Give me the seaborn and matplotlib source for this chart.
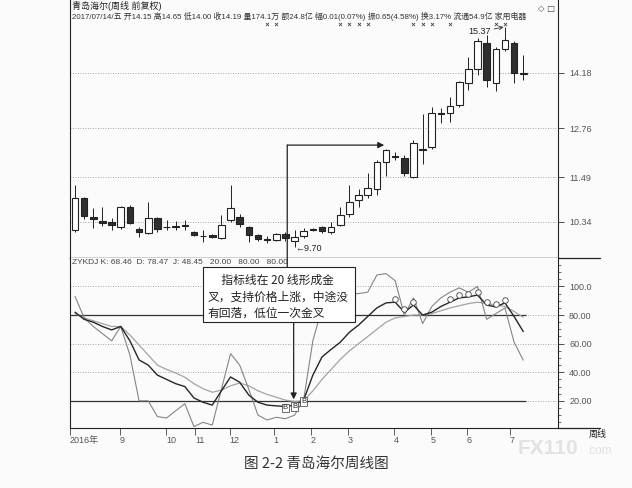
import numpy as np
import pandas as pd
import matplotlib.pyplot as plt
import seaborn as sns
from matplotlib.patches import Rectangle, ConnectionPatch
from matplotlib.lines import Line2D
from matplotlib.ticker import MultipleLocator

sns.set_theme(style="white", context="paper")
plt.rcParams['font.family'] = ['Liberation Sans', 'Noto Sans CJK SC', 'DejaVu Sans']
plt.rcParams['axes.unicode_minus'] = False

# weekly candles, Aug 2016 - 2017/07/14
opens = [10.13, 10.96, 10.47, 10.37, 10.34, 10.21, 10.73, 10.16, 10.06, 10.44,
         10.21, 10.21, 10.24, 10.08, 9.98, 10.00, 9.93, 10.39, 10.47, 10.21,
         10.00, 9.89, 9.88, 10.03, 9.86, 9.98, 10.13, 10.21, 10.08, 10.26,
         10.55, 10.91, 11.04, 11.19, 11.88, 12.02, 11.99, 11.50, 12.19, 12.27,
         13.12, 13.15, 13.36, 13.92, 14.28, 14.95, 13.92, 14.80, 14.95, 14.15]
highs = [11.29, 10.98, 10.70, 10.73, 10.44, 10.75, 10.78, 10.21, 10.86, 10.47,
         10.39, 10.36, 10.39, 10.11, 10.13, 10.03, 10.52, 11.29, 10.55, 10.24,
         10.03, 9.97, 10.06, 10.08, 10.13, 10.18, 10.18, 10.24, 10.34, 10.73,
         11.29, 11.19, 11.60, 11.93, 12.21, 12.14, 12.07, 12.45, 13.12, 13.30,
         13.28, 13.56, 13.97, 14.59, 15.08, 15.16, 14.85, 15.37, 15.00, 14.65]
lows = [10.08, 10.42, 10.18, 10.23, 10.13, 10.16, 10.28, 9.95, 10.03, 10.08,
        10.13, 10.13, 10.13, 9.98, 9.82, 9.93, 9.90, 10.34, 10.21, 9.82,
        9.85, 9.80, 9.85, 9.85, 9.70, 9.93, 10.11, 10.06, 10.03, 10.24,
        10.47, 10.73, 10.96, 11.04, 11.53, 11.93, 11.53, 11.48, 11.83, 12.22,
        12.89, 12.92, 13.30, 13.74, 14.13, 13.82, 13.72, 14.75, 13.92, 14.00]
closes = [10.96, 10.49, 10.42, 10.31, 10.26, 10.73, 10.31, 10.08, 10.44, 10.16,
          10.20, 10.22, 10.24, 10.00, 9.97, 9.95, 10.26, 10.70, 10.29, 10.00,
          9.90, 9.88, 10.03, 9.93, 9.95, 10.10, 10.16, 10.10, 10.21, 10.52,
          10.86, 11.04, 11.22, 11.88, 12.19, 12.03, 11.60, 12.38, 12.21, 13.15,
          13.15, 13.33, 13.95, 14.28, 15.00, 14.00, 14.80, 15.03, 14.18, 14.19]

# ZYKDJ indicator
k_vals = [82, 77, 75, 72, 69.6, 72, 62, 48.6, 45, 38,
          35, 32, 30, 22, 19, 17, 27, 36.7, 33, 24,
          19, 17, 16.5, 16, 17, 20.6, 38, 50.7, 56, 61,
          68, 73, 79, 85, 88.5, 89, 82, 87, 80, 82,
          86, 89, 92, 92.7, 94, 87, 85.7, 88.5, 79, 68.46]
d_vals = [81, 78, 76, 74, 72, 72, 66, 59, 52, 45,
          42, 39.5, 36.5, 32, 28.5, 26, 27.5, 30.5, 32.5, 30.5,
          27, 24.5, 22.5, 20.5, 19.5, 20, 27, 35, 42, 49,
          55, 60, 65, 70, 75, 78, 79, 80, 80, 81,
          83, 85, 86.5, 88, 89, 88, 87, 86, 82.5, 78.47]
j_vals = [93, 78, 72, 67, 62, 72, 52, 20, 20, 9,
          8, 13, 18, 2, 5, 3, 28, 53, 45, 28,
          10, 6.6, 8.5, 7.5, 10, 21, 62, 85, 95, 97,
          95, 95, 96, 108, 109, 104, 80, 92, 74, 86,
          92, 96, 99, 96, 100, 77, 81, 85, 61, 48.45]

price_ticks = [14.18, 12.76, 11.49, 10.34]
kdj_ticks = [100, 80, 60, 40, 20]
kdj_tick_labels = ["100.0", "80.00", "60.00", "40.00", "20.00"]
month_pos = [-0.55, 4.9, 9.95, 13.1, 16.9, 21.7, 25.8, 29.8, 34.9, 38.9, 42.8, 47.5]
month_labels = ["2016年", "9", "10", "11", "12", "1", "2", "3", "4", "5", "6", "7"]
cross_idx = [21, 22, 29, 30, 31, 32, 37, 38, 39, 41, 46, 47]
buy_idx = [23, 24, 25]
circle_idx = [35, 36, 37, 41, 42, 43, 44, 45, 46, 47]

note = ["　 指标线在 20 线形成金", "叉，支持价格上涨，中途没", "有回落，低位一次金叉"]

idx = np.arange(len(closes))
W, H = 632, 488
bg = "#fbfbfb"

fig = plt.figure(figsize=(6.32, 4.88), dpi=100, facecolor=bg)
ax1 = fig.add_axes([70 / W, 1 - 258 / H, 488 / W, 258 / H], facecolor=bg)
ax2 = fig.add_axes([70 / W, 1 - 428 / H, 488 / W, 170 / H], facecolor=bg, sharex=ax1)

# candles
up = np.array(closes) >= np.array(opens)
ax1.vlines(idx, lows, highs, color="#222222", lw=0.7, zorder=2)
body_h = np.maximum(np.abs(np.array(closes) - np.array(opens)), 0.012)
body_b = np.minimum(opens, closes)
ax1.bar(idx[up], body_h[up], bottom=body_b[up], width=0.72,
        facecolor="white", edgecolor="#222222", linewidth=0.8, zorder=3)
ax1.bar(idx[~up], body_h[~up], bottom=body_b[~up], width=0.72,
        facecolor="#2e2e2e", edgecolor="#222222", linewidth=0.8, zorder=3)

for p in price_ticks:
    ax1.axhline(p, ls=(0, (1, 2)), color="#8a8a8a", lw=0.6, zorder=1)
ax1.set_ylim(9.41, 16.06)
ax1.set_xlim(-0.55, 52.8)

ax1.scatter(cross_idx, [15.44] * len(cross_idx), marker="x", s=5, color="#444444",
            linewidths=0.6, zorder=3)
ax1.annotate(f"{max(highs):.2f}", xy=(47, max(highs)), xytext=(43.0, 15.24),
             fontsize=6.5, color="#222222", va="center",
             arrowprops=dict(arrowstyle="->", color="#333333", lw=0.6,
                             shrinkA=0, shrinkB=1))
ax1.text(24.05, min(lows) - 0.04, f"←{min(lows):.2f}", fontsize=6.5,
         color="#222222", ha="left", va="center")

# KDJ panel
kdj = pd.DataFrame({"idx": idx, "K": k_vals, "D": d_vals, "J": j_vals})
sns.lineplot(data=kdj, x="idx", y="D", color="#a3a3a3", lw=0.9, ax=ax2, zorder=3)
sns.lineplot(data=kdj, x="idx", y="J", color="#858585", lw=0.8, ax=ax2, zorder=3)
sns.lineplot(data=kdj, x="idx", y="K", color="#262626", lw=1.0, ax=ax2, zorder=4)

for v in kdj_ticks:
    ax2.axhline(v, ls=(0, (1, 2)), color="#8a8a8a", lw=0.6, zorder=1)
ax2.hlines([80, 20], -0.5, idx[-1] + 0.3, color="#333333", lw=0.9, zorder=2)
ax2.set_ylim(1.0, 119.9)

ax2.scatter(circle_idx, [k_vals[i] + 2 for i in circle_idx], marker="o", s=16,
            facecolors="white", edgecolors="#444444", linewidths=0.6, zorder=5)
for i in buy_idx:
    ax2.text(i, k_vals[i] - 1, "B", fontsize=5.5, ha="center", va="center",
             color="#222222", zorder=6,
             bbox=dict(boxstyle="square,pad=0.1", fc="white", ec="#333333", lw=0.5))

# annotation box and arrows
ax2.add_patch(Rectangle((14.0, 75.2), 16.6, 38.4, facecolor="white",
                        edgecolor="#222222", lw=0.8, zorder=8, clip_on=False))
for line, yv in zip(note, [104.5, 92.3, 81.0]):
    ax2.text(14.45, yv, line, fontsize=8.5, color="#222222", ha="left",
             va="center", zorder=9, family=["Noto Sans CJK SC", "DejaVu Sans"])

con = ConnectionPatch(xyA=(23.2, 12.32), coordsA=ax1.transData,
                      xyB=(23.2, 113.6), coordsB=ax2.transData,
                      color="#222222", lw=0.9, zorder=7)
fig.add_artist(con)
ax1.annotate("", xy=(33.8, 12.32), xytext=(23.2, 12.32),
             arrowprops=dict(arrowstyle="-|>", color="#222222", lw=0.9,
                             mutation_scale=9, shrinkA=0, shrinkB=0))
ax2.annotate("", xy=(23.9, 21), xytext=(23.9, 75.2),
             arrowprops=dict(arrowstyle="-|>", color="#222222", lw=0.9,
                             mutation_scale=9, shrinkA=0, shrinkB=0))

# axes styling
for ax in (ax1, ax2):
    ax.set_xlabel("")
    ax.set_ylabel("")
    ax.yaxis.tick_right()
    ax.tick_params(axis="y", direction="out", length=4, width=0.6, color="#333333",
                   labelcolor="#555555", labelsize=6.5, pad=4, right=True, left=False)
    for s in ax.spines.values():
        s.set_color("#222222")
        s.set_linewidth(0.8)
ax1.spines["top"].set_visible(False)
ax1.spines["bottom"].set_linewidth(1.0)
ax2.spines["top"].set_visible(False)
ax1.set_yticks(price_ticks)
ax1.set_yticklabels([f"{p:.2f}" for p in price_ticks])
ax1.tick_params(axis="x", bottom=False, labelbottom=False)
ax2.set_yticks(kdj_ticks)
ax2.set_yticklabels(kdj_tick_labels)
ax2.yaxis.set_minor_locator(MultipleLocator(5))
ax2.tick_params(axis="y", which="minor", direction="out", length=2, width=0.5,
                color="#333333", right=True, left=False)
ax2.set_xticks(month_pos)
ax2.set_xticklabels(month_labels)
ax2.tick_params(axis="x", direction="out", length=5, width=0.6, color="#444444",
                labelcolor="#555555", labelsize=6.5, pad=1, bottom=True)
for lab in ax2.get_xticklabels():
    lab.set_ha("left")

# lines running past the right axis
for yy in (258, 428):
    fig.add_artist(Line2D([558 / W, 600 / W], [1 - yy / H] * 2, color="#222222", lw=0.9))

# header texts
fig.text(72 / W, 1 - 6 / H, "青岛海尔(周线 前复权)", fontsize=6.5, va="center", color="#222222")
info = (f"2017/07/14/五 开{opens[-1]:.2f} 高{highs[-1]:.2f} 低{lows[-1]:.2f} "
        f"收{closes[-1]:.2f} 量174.1万 额24.8亿 幅0.01(0.07%) 振0.65(4.58%) "
        f"换3.17% 流通54.9亿 家用电器")
fig.text(72 / W, 1 - 16 / H, info, fontsize=5.7, va="center", color="#333333")
fig.text(546 / W, 1 - 8 / H, "◇ □", fontsize=6, va="center", ha="center",
         color="#444444", family=["DejaVu Sans"])
fig.text(72 / W, 1 - 263 / H,
         f"ZYKDJ K: {k_vals[-1]:.2f}  D: {d_vals[-1]:.2f}  J: {j_vals[-1]:.2f}   20.00   80.00   80.00",
         fontsize=6.0, va="center", color="#444444")
fig.text(598 / W, 1 - 434 / H, "周线", fontsize=6.5, va="center", ha="center", color="#222222")

# watermark + caption
fig.text(548 / W, 1 - 448 / H, "FX110", fontsize=15, fontweight="bold", color="#e2e2e2",
         ha="center", va="center", zorder=0)
fig.text(600 / W, 1 - 451 / H, ".com", fontsize=8.5, color="#e2e2e2", ha="center",
         va="center", zorder=0)
fig.text(0.5, 1 - 464 / H, "图 2-2 青岛海尔周线图", fontsize=10.5, ha="center",
         va="center", color="#333333", family=["Noto Sans CJK SC", "DejaVu Sans"])

fig.savefig("out.png", dpi=100, facecolor=bg)
